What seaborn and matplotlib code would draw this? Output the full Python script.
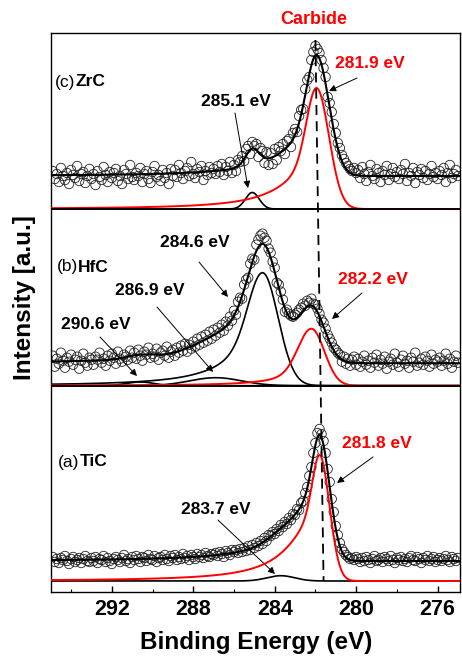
import numpy as np
import pandas as pd
import matplotlib
matplotlib.use("Agg")
import matplotlib.pyplot as plt
import seaborn as sns

# ---------------- data ----------------
E_START, E_STEP = 294.9, 0.1          # binding energy of first point, step (eV)

zrc_counts = [38, 30, 35, 27, 41, 33, 29, 36, 25, 39, 34, 31, 43, 28, 35, 37, 26, 33, 40, 30,
              35, 24, 38, 32, 29, 42, 34, 27, 37, 31, 36, 40, 28, 33, 25, 39, 35, 30, 44, 32,
              29, 36, 33, 41, 27, 35, 38, 30, 26, 37, 43, 32, 34, 28, 39, 31, 36, 25, 40, 33,
              39, 32, 44, 36, 30, 38, 41, 33, 47, 35, 31, 40, 37, 43, 29, 38, 34, 42, 36, 40,
              35, 43, 37, 45, 34, 42, 38, 47, 36, 44, 38, 49, 47, 53, 48, 60, 63, 55, 67, 63,
              65, 52, 61, 58, 46, 57, 44, 56, 45, 60, 49, 62, 58, 65, 55, 68, 70, 62, 76, 80,
              77, 93, 99, 100, 120, 129, 132, 149, 157, 163, 160, 156, 149, 141, 132, 112, 106, 97, 85, 76,
              66, 61, 54, 50, 46, 43, 40, 38, 41, 36,
              39, 31, 42, 35, 28, 37, 44, 33, 30, 40, 36, 27, 38, 34, 43, 29, 35, 41, 32, 37,
              30, 39, 35, 45, 28, 36, 33, 41, 26, 37, 34, 40, 31, 38, 29, 35, 43, 32, 36, 30,
              38, 34, 41, 27, 36, 44, 31, 35, 39, 33]

hfc_counts = [30, 19, 27, 22, 33, 25, 18, 28, 24, 31, 21, 26, 29, 17, 25, 32, 23, 20, 28, 26,
              21, 29, 26, 33, 23, 27, 20, 30, 25, 32, 28, 22, 34, 27, 24, 31, 29, 26, 35, 28,
              33, 27, 36, 30, 25, 34, 31, 38, 28, 32, 29, 37, 26, 33, 35, 30, 39, 28, 34, 36,
              30, 38, 33, 40, 35, 42, 34, 41, 37, 44,
              39, 47, 41, 49, 43, 51, 45, 54, 47, 56, 50, 58, 53, 61, 55, 64, 60, 69, 65, 75,
              71, 84, 88, 87, 101, 106, 108, 122, 127, 126, 141, 146, 150, 152, 148, 145, 137, 133, 124, 118,
              103, 101, 94, 86, 74, 76, 72, 70, 69, 71, 73, 76, 78, 82, 80, 85, 83, 87, 82, 81,
              77, 72, 66, 63, 57, 51, 47, 43, 38, 36, 33, 31, 24, 29, 22, 27, 20, 26, 29, 21,
              27, 19, 24, 30, 21, 25, 18, 28, 23, 31, 20, 26, 22, 29, 17, 24, 27, 21, 32, 23,
              19, 26, 30, 22, 25, 18, 28, 24, 33, 20, 23, 27, 21, 29, 25, 19, 31, 22, 26, 24,
              28, 20, 25, 32, 22, 27, 18, 24, 30, 23]

tic_counts = [24, 19, 22, 18, 23, 21, 25, 20, 17, 22, 24, 19, 21, 23, 18, 22, 25, 20, 19, 23,
              20, 24, 18, 22, 21, 25, 19, 23, 20, 17, 22, 24, 21, 19, 23, 26, 20, 22, 18, 24,
              21, 25, 22, 19, 24, 23, 20, 26, 22, 21, 25, 19, 23, 24, 21, 26, 22, 20, 25, 23,
              26, 21, 24, 22, 27, 23, 25, 21, 26, 24,
              22, 27, 24, 26, 23, 28, 25, 24, 27, 26,
              28, 25, 29, 27, 24, 30, 28, 26, 31, 29,
              31, 28, 32, 29, 33, 30, 35, 31, 36, 33, 38, 35, 40, 37, 43, 40, 46, 45, 49, 47,
              52, 50, 56, 54, 59, 57, 63, 61, 67, 66, 72, 71, 78, 80, 88, 94, 105, 114, 128, 138,
              148, 152, 147, 140, 128, 112, 99, 82, 69, 55, 46, 38, 32, 29, 26, 24, 22, 23, 21, 24,
              22, 19, 23, 20, 24, 21, 18, 22, 25, 20, 21, 23, 19, 24, 22, 20, 25, 21, 18, 23,
              21, 24, 20, 22, 19, 23, 25, 21, 20, 24, 22, 18, 23, 21, 25, 20, 22, 24, 19, 21,
              23, 20, 22, 25, 21, 19, 24, 22, 20, 23]

# fitted components: center (eV), height, left/right HWHM, tail fraction, tail HWHM
zrc_center = [281.95, 285.1]
zrc_height = [121, 16.5]
zrc_wl = [0.56, 0.4]
zrc_wr = [0.72, 0.4]
zrc_tail = [0.4, 0.0]
zrc_wt = [1.7, 1.0]
zrc_color = ["red", "black"]

hfc_center = [282.2, 284.6, 286.9, 290.6]
hfc_height = [57, 113, 8, 3.7]
hfc_wl = [0.75, 0.8, 1.5, 0.8]
hfc_wr = [0.75, 0.9, 1.5, 0.8]
hfc_tail = [0.3, 0.45, 0.0, 0.0]
hfc_wt = [1.5, 1.8, 1.0, 1.0]
hfc_color = ["red", "black", "black", "black"]

tic_center = [281.8, 283.7]
tic_height = [126, 5.3]
tic_wl = [0.4, 0.8]
tic_wr = [0.57, 0.8]
tic_tail = [0.55, 0.0]
tic_wt = [1.55, 1.0]
tic_color = ["red", "black"]

backgrounds = {"ZrC": 33, "HfC": 22.5, "TiC": 20}
offsets = {"ZrC": 372, "HfC": 195.3, "TiC": 0}

peak_labels = ["285.1 eV", "281.9 eV", "284.6 eV", "286.9 eV", "290.6 eV",
               "282.2 eV", "281.8 eV", "283.7 eV"]
peak_label_colors = ["black", "red", "black", "black", "black", "red", "red", "black"]

x_ticks = [292, 288, 284, 280, 276]

# ---------------- helpers ----------------
def component(x, c, h, wl, wr, a, wt):
    d = x - c
    left = d >= 0
    w = np.where(left, wl, wr)
    aa = np.where(left, a, 0.0)
    g = np.exp(-np.log(2) * (d / w) ** 2)
    lor = 1.0 / (1.0 + (d / wt) ** 2)
    return h * ((1 - aa) * g + aa * lor)

W, H = 462, 656
def fp(x, y):
    return (x / W, 1 - y / H)

sns.set_style("ticks")
plt.rcParams["font.family"] = ["Liberation Sans", "DejaVu Sans"]
plt.rcParams.update({"text.color": "black", "axes.labelcolor": "black",
                     "xtick.color": "black", "ytick.color": "black",
                     "axes.edgecolor": "black"})

fig = plt.figure(figsize=(W / 100, H / 100), dpi=100)
ax = fig.add_axes([50.7 / W, 1 - 592 / H, (460 - 50.7) / W, (592 - 32.5) / H])

xfine = np.linspace(295.2, 274.7, 1500)

panels = [
    ("ZrC", zrc_counts, zrc_center, zrc_height, zrc_wl, zrc_wr, zrc_tail, zrc_wt, zrc_color),
    ("HfC", hfc_counts, hfc_center, hfc_height, hfc_wl, hfc_wr, hfc_tail, hfc_wt, hfc_color),
    ("TiC", tic_counts, tic_center, tic_height, tic_wl, tic_wr, tic_tail, tic_wt, tic_color),
]

for name, counts, cen, hei, wl, wr, tail, wt, cols in panels:
    off = offsets[name]
    energy = E_START - E_STEP * np.arange(len(counts))
    df = pd.DataFrame({"E": energy, "I": np.array(counts, float) + off})
    sns.scatterplot(data=df, x="E", y="I", ax=ax, marker="o", s=46,
                    facecolor="none", edgecolor="#222222", linewidth=0.6, zorder=2)
    total = np.full_like(xfine, backgrounds[name], dtype=float)
    for i in range(len(cen)):
        comp = component(xfine, cen[i], hei[i], wl[i], wr[i], tail[i], wt[i])
        total += comp
        cdf = pd.DataFrame({"E": xfine, "I": comp + off})
        c = cols[i]
        sns.lineplot(data=cdf, x="E", y="I", ax=ax, color=c,
                     lw=1.4 if c == "red" else 1.2, sort=False, estimator=None,
                     zorder=4 if c == "red" else 3)
    tdf = pd.DataFrame({"E": xfine, "I": total + off})
    sns.lineplot(data=tdf, x="E", y="I", ax=ax, color="black", lw=1.5,
                 sort=False, estimator=None, zorder=5)

# panel dividers
for name in ["ZrC", "HfC"]:
    ax.axhline(offsets[name], color="black", lw=1.3, zorder=6)

# carbide reference line
CARBIDE_TOP_EV, CARBIDE_BOTTOM_EV = 282.0, 281.6
ax.plot([CARBIDE_TOP_EV, CARBIDE_BOTTOM_EV], [541, 0], color="black", lw=1.3,
        dashes=(5.5, 3.5), zorder=7)

ax.set_xlim(295, 274.9)
ax.set_ylim(-11, 548.5)
ax.set_yticks([])
ax.set_xticks(x_ticks)
ax.set_xticks(np.arange(294, 274, -2), minor=True)
ax.tick_params(axis="x", which="major", direction="in", length=4, width=1,
               labelsize=15.5, pad=5, colors="black")
ax.tick_params(axis="x", which="minor", direction="in", length=2.5, width=0.8,
               colors="black")
for lab in ax.get_xticklabels():
    lab.set_fontweight("bold")
    lab.set_color("black")
ax.set_xlabel("")
ax.set_ylabel("")
for sp in ax.spines.values():
    sp.set_linewidth(1.0)
    sp.set_color("black")

# axis titles
fig.text(*fp(256, 642), "Binding Energy (eV)", fontsize=17.5, fontweight="bold",
         ha="center", va="center", color="black")
fig.text(*fp(25, 298), "Intensity [a.u.]", fontsize=17.5, fontweight="bold",
         ha="center", va="center", rotation=90, color="black")
fig.text(*fp(314, 20), "Carbide", fontsize=13, fontweight="bold", color="red",
         ha="center", va="center")

# panel labels
for (px, py), tag, mat in [((55, 82), "(c)", "ZrC"), ((57, 267), "(b)", "HfC"),
                            ((58, 462), "(a)", "TiC")]:
    t1 = fig.text(*fp(px, py), tag, fontsize=12.5, ha="left", va="center", color="black")
    ax.annotate(mat, xy=(1, 0), xycoords=t1, xytext=(0, 0),
                textcoords="offset points", fontsize=12.5, fontweight="bold",
                ha="left", va="bottom", color="black")

# peak labels
label_pos = [(236, 102), (370, 63), (195, 243), (150, 290), (96, 325),
             (373, 279), (377, 443), (216, 509)]
for (px, py), txt, c in zip(label_pos, peak_labels, peak_label_colors):
    fig.text(*fp(px, py), txt, fontsize=12.5, fontweight="bold", color=c,
             ha="center", va="center")

arrows = [((235, 113), (248, 188)), ((357, 78), (329, 91)), ((199, 262), (228, 297)),
          ((157, 307), (213, 372)), ((100, 337), (137, 376)), ((362, 293), (332, 319)),
          ((373, 457), (337, 483)), ((218, 520), (275, 574))]
for (x0, y0), (x1, y1) in arrows:
    ax.annotate("", xy=fp(x1, y1), xycoords="figure fraction",
                xytext=fp(x0, y0), textcoords="figure fraction",
                arrowprops=dict(arrowstyle="-|>", color="black", lw=0.7,
                                mutation_scale=10, shrinkA=0, shrinkB=0))

fig.savefig("out.png", dpi=100)
